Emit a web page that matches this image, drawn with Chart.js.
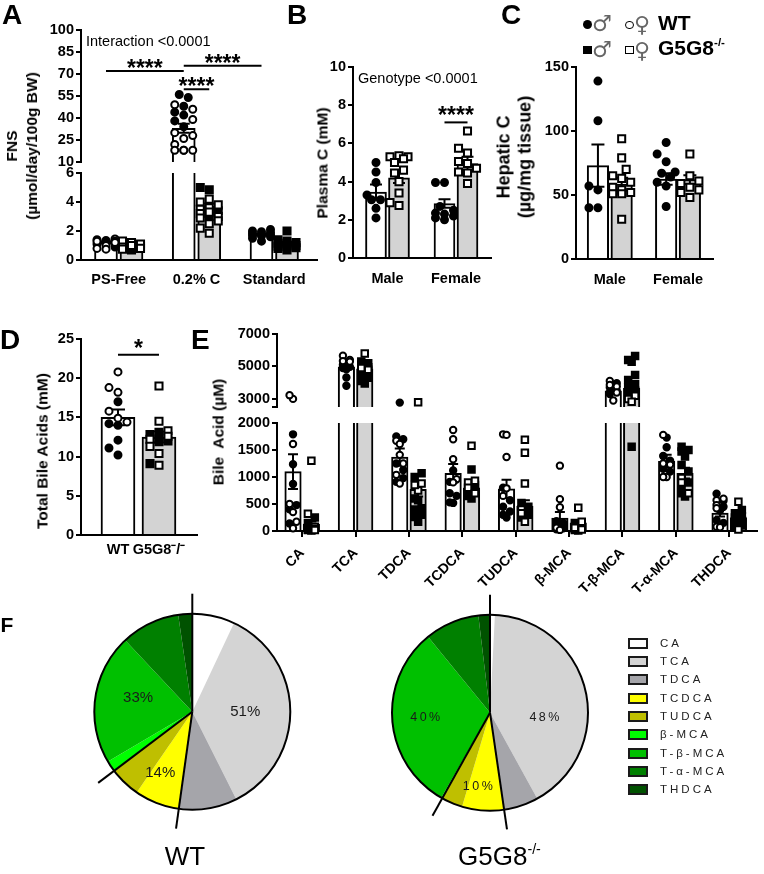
<!DOCTYPE html>
<html><head><meta charset="utf-8">
<script src="https://cdn.jsdelivr.net/npm/chart.js"></script>
<style>
html,body{margin:0;padding:0;background:#fff;}
#page{position:relative;width:764px;height:874px;overflow:hidden;font-family:'Liberation Sans',Arial,Helvetica,sans-serif;color:#000;}
#page canvas{position:absolute;left:0;top:0;}
.t{position:absolute;white-space:pre;line-height:1;}
.v{position:absolute;white-space:pre;text-align:center;font-weight:bold;transform:translate(-50%,-50%) rotate(-90deg);}
sup{font-size:55%;vertical-align:0;position:relative;top:-0.8em;}
</style></head><body><div id="page"></div>
<script>
// ================= DATA =================
// Panel A (FNS)
const aCats = ['PS-Free', '0.2% C', 'Standard'];
const aWtMean = [1.2, 33, 1.75];
const aWtSem  = [0.07, 3, 0.05];
const aKoMean = [1.0, 3.7, 1.15];
const aKoSem  = [0.06, 0.2, 0.1];
const aWtMale   = [[1.35,1.25,1.1,0.9],[56,54,48,44,42,38,34],[2.1,2.0,1.95,1.9,1.85,1.8,1.75,1.7,1.65,1.6,1.5,1.3]];
const aWtFemale = [[1.45,1.4,1.3,1.3,1.2,1.0,0.8,0.75],[49,46,39,30,28,26,22,18,18,18,18],[]];
const aKoMale   = [[1.05,0.95,0.85,0.7],[5.0,4.85,3.4,3.0],[2.0,1.4,1.3,1.2,1.15,1.1,1.0,0.95,0.9,0.85,0.8,0.7]];
const aKoFemale = [[1.3,1.2,1.1,0.9,0.8,0.75,1.0],[4.2,4.0,3.8,3.6,3.5,3.3,3.2,3.0,2.9,2.7,2.5,2.2,1.85],[]];
const aTopTicks = [10,25,40,55,70,85,100];
const aBotTicks = [0,2,4,6];

// Panel B (Plasma C)
const bCats = ['Male','Female'];
const bWtMean = [3.45, 2.85], bWtSem = [0.4, 0.22];
const bKoMean = [4.2, 4.95],  bKoSem = [0.27, 0.35];
const bWtPts = [[5.0,4.5,3.95,3.3,3.05,3.05,2.6,2.1],[3.95,3.95,2.7,2.5,2.35,2.3,2.2,2.1,2.0]];
const bKoPts = [[5.35,5.3,5.3,5.2,5.0,4.6,4.45,4.0,3.4,2.9,2.75],[6.65,5.75,5.5,5.05,4.95,4.7,4.5,4.45,3.9]];
const bTicks = [0,2,4,6,8,10];

// Panel C (Hepatic C)
const cCats = ['Male','Female'];
const cWtMean = [73, 62.5], cWtSem = [16.5, 4.5];
const cKoMean = [58.5, 62], cKoSem = [5, 3.5];
const cWtPts = [[139,108,57,54,40,40],[91,82,76,68,67,64,60,57,41]];
const cKoPts = [[94,79,70,65,63,60,56,54,52,51,51,31],[82,65,61,59,56,54,52,48]];
const cTicks = [0,50,100,150];

// Panel D (Total bile acids)
const dCats = ['WT','G5G8\u207B/\u207B'];
const dMean = [15.0, 12.5], dSem = [1.0, 0.7];
const dMale   = [[17.0,14.2,14.0,12.1,11.1,10.2],[13.1,12.8,12.4,11.9,12.0,9.1]];
const dFemale = [[20.8,18.8,18.2,15.8,14.9,14.4],[19.0,14.5,13.3,12.6,12.2,11.3,10.4,8.9]];
const dTicks = [0,5,10,15,20,25];

// Panel E (Bile acid species)
const eCats = ['CA','TCA','TDCA','TCDCA','TUDCA','β-MCA','T-β-MCA','T-α-MCA','THDCA'];
const eWtMean = [1100,4980,1370,1070,780,240,3500,1290,330];
const eWtSem  = [320,160,160,170,170,110,90,120,60];
const eKoMean = [125,4850,770,800,460,150,3650,1070,250];
const eKoSem  = [50,150,130,90,110,40,220,100,30];
const eWtFemale = [[3000,3230,1610,500,350,170,50],[5660,5400,5330,5300],[1670,1610,1410,1250,1040,880],[1870,1700,1330,960,900],[1790,1780,1370,790,650],[1210,590,440,60,20],[4110,3860,3760,3390,2900],[1780,1250,1230,1000,1000],[600,570,480,420,80,70]];
const eWtMale   = [[1790,1235,870,480,400,140],[5100,4980,4830,4320,3810,4900],[2770,1750,1700,1130,980,910,1250],[1120,910,700,650,520,530],[800,570,450,360,300,250],[180,150,100,80,50,30],[3970,3700,3500,3400,3300],[1730,1550,1390,1300,1150,1100],[690,560,450,380,200,150]];
const eKoFemale = [[1300,320,80,40,20],[5800,4900,4800],[2800,880,750,850],[1580,900,930,800,700],[1690,1450,880,400,330,170],[430,170,60,30],[3200,3000,2830],[980,900,700],[540,30]];
const eKoMale   = [[250,150,60,30,20,10],[5300,5200,5100,4950,4800,4700,4500,4300,4100,3950],[1070,1000,570,420,400,260,170,600,300],[1140,850,780,720,650,600],[520,450,380,300,250],[150,100,60,40,20,10],[5640,5400,5290,4480,4170,3900,3700,3500,3300,1560],[1560,1500,1470,1380,1220,1100,900,800,700,640],[390,330,280,250,200,150,100,80]];
const eTopTicks = [2500,3000,5000,7000];
const eBotTicks = [0,500,1000,1500,2000];

// Panel F (composition, % of total)
const fLabels = ['CA','TCA','TDCA','TCDCA','TUDCA','β-MCA','T-β-MCA','T-α-MCA','THDCA'];
const fWt = [7.0,35.6,9.6,7.4,5.1,1.8,21.5,9.7,2.3];
const fKo = [0.8,41.2,5.7,6.9,3.5,0.2,30.8,9.0,1.9];
const fGroups = [[0,1,2],[3,4],[5,6,7,8]];
const fWtGroupLabels = ['51%','14%','33%'];
const fKoGroupLabels = ['48%','10%','40%'];

// ================= STYLE =================
const FONT = "'Liberation Sans', Arial, Helvetica, sans-serif";
const fColors = ['#ffffff','#d4d4d4','#a5a5aa','#ffff00','#bfbf00','#00ff00','#00c000','#008000','#005200'];
const WT_FILL = '#ffffff', KO_FILL = '#d3d3d3';
Chart.defaults.font.family = FONT;
Chart.defaults.color = '#000';

const page = document.getElementById('page');
function mkCanvas(){const c=document.createElement('canvas');c.width=764;c.height=874;c.style.width='764px';c.style.height='874px';page.appendChild(c);return c;}
function txt(html,x,base,size,weight,align,extra){
  const d=document.createElement('div');d.className='t';d.innerHTML=html;
  d.style.fontSize=size+'px';d.style.fontWeight=weight||'bold';
  d.style.top=(base-0.8465*size)+'px';d.style.left=x+'px';
  if(align==='center')d.style.transform='translateX(-50%)';
  if(extra)Object.assign(d.style,extra);
  page.appendChild(d);return d;
}
function vtxt(html,cx,cy,size,lh){
  const d=document.createElement('div');d.className='v';d.innerHTML=html;
  d.style.fontSize=size+'px';d.style.lineHeight=(lh||Math.round(size*1.2))+'px';
  d.style.left=cx+'px';d.style.top=cy+'px';page.appendChild(d);return d;
}
function box(x,y,w,h,st){const d=document.createElement('div');Object.assign(d.style,{position:'absolute',left:x+'px',top:y+'px',width:w+'px',height:h+'px',boxSizing:'border-box'},st);page.appendChild(d);return d;}

// deterministic beeswarm layout (pixel offsets)
function swarm(ys,maxOff,step,size){
  const order=ys.map((_,i)=>i).sort((a,b)=>ys[a]-ys[b]);
  const placed=[],offs=new Array(ys.length).fill(0);
  const cands=[0];for(let k=1;k*step<=maxOff+0.01;k++)cands.push(-k*step,k*step);
  for(const i of order){
    let best=0,bs=Infinity;
    for(const c of cands){
      let s=0;for(const p of placed){const d=Math.hypot(p.x-c,p.y-ys[i]);if(d<size)s+=size-d;}
      if(s<bs-1e-9){bs=s;best=c;} if(s===0)break;
    }
    placed.push({x:best,y:ys[i]});offs[i]=best;
  }
  return offs;
}
function groupPts(male,female,xc,L,F,O){
  const all=male.map(v=>({v,f:true})).concat(female.map(v=>({v,f:false})));
  const offs=swarm(all.map(a=>L.yPix(a.v)),L.maxOff,L.step,L.size);
  all.forEach((a,k)=>(a.f?F:O).push({x:xc+offs[k]/L.pxX,y:a.v}));
}
function catPts(maleArr,femaleArr,off,L){
  const F=[],O=[];
  const n=Math.max(maleArr.length,femaleArr.length);
  for(let i=0;i<n;i++)groupPts(maleArr[i]||[],femaleArr[i]||[],i+off,L,F,O);
  return {filled:F,open:O};
}

const panelPlugin={
  id:'panelExtras',
  afterDatasetDraw(chart,args){
    const ds=chart.data.datasets[args.index];
    if(!ds.errs)return;
    const ctx=chart.ctx,a=chart.chartArea,xs=chart.scales.x,ys=chart.scales.y;
    ctx.save();ctx.beginPath();ctx.rect(a.left,a.top,a.right-a.left,a.bottom-a.top);ctx.clip();
    ctx.strokeStyle='#000';ctx.lineWidth=2;
    ds.data.forEach((d,i)=>{
      const e=ds.errs[i];if(e==null||d.y==null)return;
      const x=xs.getPixelForValue(d.x),y1=ys.getPixelForValue(d.y-e),y2=ys.getPixelForValue(d.y+e),w=ds.capW;
      ctx.beginPath();ctx.moveTo(x,y1);ctx.lineTo(x,y2);
      ctx.moveTo(x-w,y1);ctx.lineTo(x+w,y1);ctx.moveTo(x-w,y2);ctx.lineTo(x+w,y2);ctx.stroke();
    });
    ctx.restore();
  },
  afterDraw(chart,args,opts){
    const sig=opts.sig||[];if(!sig.length)return;
    const ctx=chart.ctx,xs=chart.scales.x,ys=chart.scales.y;
    ctx.save();ctx.strokeStyle='#000';ctx.fillStyle='#000';ctx.lineWidth=2;
    ctx.font='bold '+opts.starSize+'px '+FONT;ctx.textAlign='center';ctx.textBaseline='alphabetic';
    sig.forEach(s=>{
      const x1=xs.getPixelForValue(s.x1),x2=xs.getPixelForValue(s.x2),y=ys.getPixelForValue(s.y);
      ctx.beginPath();ctx.moveTo(x1,y);ctx.lineTo(x2,y);ctx.stroke();
      ctx.fillText(s.text,(x1+x2)/2,y+opts.starDy);
    });
    ctx.restore();
  }
};

function barChart(o){
  const yW=50,xH=o.cats?70:0;
  const datasets=[];
  o.points.forEach(p=>datasets.push({type:'scatter',data:p.data,pointStyle:p.style,pointRadius:p.r,
    backgroundColor:p.fill,borderColor:'#000',borderWidth:2,pointBorderWidth:2,order:1,clip:o.clip}));
  o.bars.forEach(b=>datasets.push({type:'bar',data:b.vals.map((v,i)=>({x:i+b.off,y:v})),backgroundColor:b.fill,
    borderColor:'#000',borderWidth:2,borderSkipped:'start',barThickness:o.barW,maxBarThickness:o.barW,grouped:false,
    errs:b.errs,capW:o.capW,order:2,clip:0}));
  return new Chart(mkCanvas(),{
    type:'bar',data:{datasets},
    options:{responsive:false,maintainAspectRatio:false,devicePixelRatio:1,animation:false,events:[],
      layout:{padding:{left:o.area.l-yW,top:o.area.t,right:764-o.area.r,bottom:874-o.area.b-xH}},
      plugins:{legend:{display:false},tooltip:{enabled:false},
        panelExtras:{sig:o.sig||[],starDy:o.starDy||0,starSize:o.starSize||23}},
      scales:{
        x:{type:'linear',offset:false,display:!!o.cats,min:o.xMin,max:o.xMax,
          afterBuildTicks:s=>{s.ticks=(o.cats||[]).map((c,i)=>({value:i}));},
          afterFit:s=>{s.height=xH;},
          ticks:{callback:v=>o.cats?o.cats[v]:'',font:{family:FONT,size:o.xSize||14.5,weight:'bold'},padding:o.xPad||0,
            autoSkip:false,minRotation:o.rot||0,maxRotation:o.rot||0,color:'#000'},
          grid:{display:!!o.xTicks,offset:false,drawOnChartArea:false,drawTicks:!!o.xTicks,tickLength:6,lineWidth:2,color:'#000'},
          border:{display:true,color:'#000',width:2}},
        y:{type:'linear',min:o.yMin,max:o.yMax,
          afterBuildTicks:s=>{s.ticks=o.yTicks.map(v=>({value:v}));},
          afterFit:s=>{s.width=yW;},
          ticks:{callback:v=>(o.hideTick&&o.hideTick.includes(v))?'':String(v),font:{family:FONT,size:14.5,weight:'bold'},padding:2,color:'#000'},
          grid:{drawOnChartArea:false,drawTicks:true,tickLength:5,lineWidth:2,color:'#000'},
          border:{display:true,color:'#000',width:2}}
      }},
    plugins:[panelPlugin]
  });
}
function markerSets(wt,ko,rc,rs){
  return [
    {data:wt.open,style:'circle',r:rc,fill:'#fff'},
    {data:wt.filled,style:'circle',r:rc,fill:'#000'},
    {data:ko.open,style:'rect',r:rs,fill:'#fff'},
    {data:ko.filled,style:'rect',r:rs,fill:'#000'}];
}

// ---------- Panel A ----------
{
  const off=0.164;
  const L={yPix:v=>v<=8?v*14.5:1000+v*1.467,pxX:77.75,maxOff:9,step:4.5,size:9};
  const wt=catPts(aWtMale,aWtFemale,-off,L), ko=catPts(aKoMale,aKoFemale,off,L);
  const pts=markerSets(wt,ko,3.5,5);
  const bars=[{vals:aWtMean,errs:aWtSem,off:-off,fill:WT_FILL},{vals:aKoMean,errs:aKoSem,off:off,fill:KO_FILL}];
  const xr={xMin:-0.4855,xMax:2.5498};
  barChart(Object.assign({area:{l:81,t:30,r:317,b:162},yMin:10,yMax:100,yTicks:aTopTicks,bars,points:pts,barW:23,capW:6,
    clip:{left:10,right:10,top:10,bottom:0},starDy:5,
    sig:[{x1:-off,x2:1-off,y:72,text:'****'},{x1:1-off,x2:2-off,y:75.6,text:'****'},{x1:1-off,x2:1+off,y:59.6,text:'****'}]},xr));
  barChart(Object.assign({area:{l:81,t:173,r:317,b:260},cats:aCats,xPad:11,yMin:0,yMax:6,yTicks:aBotTicks,bars,points:pts,barW:23,capW:6,
    clip:{left:10,right:10,top:0,bottom:10}},xr));
}
// ---------- Panel B ----------
{
  const off=0.168;
  const L={yPix:v=>v*19.1,pxX:68.5,maxOff:9,step:4.5,size:9};
  const wt=catPts(bWtPts,[],-off,L), ko=catPts([],bKoPts,off,L);
  barChart({area:{l:353,t:67,r:491,b:258},cats:bCats,xPad:12,xMin:-0.5036,xMax:1.511,yMin:0,yMax:10,yTicks:bTicks,
    bars:[{vals:bWtMean,errs:bWtSem,off:-off,fill:WT_FILL},{vals:bKoMean,errs:bKoSem,off:off,fill:KO_FILL}],
    points:markerSets(wt,ko,3.5,5),barW:21,capW:6,clip:10,starDy:1,
    sig:[{x1:1-off,x2:1+off,y:7.1,text:'****'}]});
}
// ---------- Panel C ----------
{
  const off=0.174;
  const L={yPix:v=>v*1.28,pxX:68.2,maxOff:9,step:4.5,size:9};
  const wt=catPts(cWtPts,[],-off,L), ko=catPts([],cKoPts,off,L);
  barChart({area:{l:576,t:67,r:713,b:259},cats:cCats,xPad:12,xMin:-0.4956,xMax:1.513,yMin:0,yMax:150,yTicks:cTicks,
    bars:[{vals:cWtMean,errs:cWtSem,off:-off,fill:WT_FILL},{vals:cKoMean,errs:cKoSem,off:off,fill:KO_FILL}],
    points:markerSets(wt,ko,3.5,5),barW:21.5,capW:6.5,clip:10});
}
// ---------- Panel D ----------
{
  const L={yPix:v=>v*7.83,pxX:41,maxOff:12,step:4.5,size:9};
  const F1=[],O1=[],F2=[],O2=[];
  groupPts(dMale[0],dFemale[0],0,L,F1,O1);
  groupPts(dMale[1],dFemale[1],1,L,F2,O2);
  barChart({area:{l:81,t:339,r:197,b:535},cats:dCats,xPad:6,xMin:-0.902,xMax:1.927,yMin:0,yMax:25,yTicks:dTicks,
    bars:[{vals:[dMean[0]],errs:[dSem[0]],off:0,fill:WT_FILL},{vals:[null,dMean[1]],errs:[null,dSem[1]],off:0,fill:KO_FILL}],
    points:markerSets({filled:F1,open:O1},{filled:F2,open:O2},3.5,5),barW:34,capW:7,clip:10,starDy:1,
    sig:[{x1:0,x2:1,y:23,text:'*'}]});
}
// ---------- Panel E ----------
{
  const off=0.172;
  const L={yPix:v=>v<=2200?v*0.054:1000+v*0.01626,pxX:54,maxOff:6.5,step:3.5,size:8};
  const wt=catPts(eWtMale,eWtFemale,-off,L), ko=catPts(eKoMale,eKoFemale,off,L);
  const pts=markerSets(wt,ko,3.2,4.6);
  const bars=[{vals:eWtMean,errs:eWtSem,off:-off,fill:WT_FILL},{vals:eKoMean,errs:eKoSem,off:off,fill:KO_FILL}];
  const xr={xMin:-0.472,xMax:8.528};
  barChart(Object.assign({area:{l:277,t:334,r:763,b:407},yMin:2500,yMax:7000,yTicks:eTopTicks,hideTick:[2500],bars,points:pts,
    barW:16.5,capW:5,clip:{left:10,right:10,top:10,bottom:0}},xr));
  barChart(Object.assign({area:{l:277,t:423,r:763,b:531},cats:eCats,xTicks:true,rot:45,xSize:14,xPad:8,yMin:0,yMax:2000,yTicks:eBotTicks,
    bars,points:pts,barW:16.5,capW:5,clip:{left:10,right:10,top:0,bottom:10}},xr));
}
// ---------- Panel F ----------
const piePlugin={
  id:'pieExtras',
  afterDatasetsDraw(chart,args,o){
    const ctx=chart.ctx,arcs=chart.getDatasetMeta(0).data;
    const p=arcs[0].getProps(['x','y','outerRadius'],true);
    const cx=p.x,cy=p.y,r=p.outerRadius;
    ctx.save();ctx.strokeStyle='#000';ctx.lineWidth=2;
    ctx.beginPath();ctx.arc(cx,cy,r,0,Math.PI*2);ctx.stroke();
    o.groups.forEach(g=>{
      const a=arcs[g[0]].startAngle;
      ctx.beginPath();ctx.moveTo(cx,cy);ctx.lineTo(cx+(r+o.ext)*Math.cos(a),cy+(r+o.ext)*Math.sin(a));ctx.stroke();
    });
    ctx.fillStyle='#1a1a1a';ctx.font=o.font;ctx.textAlign='center';ctx.textBaseline='middle';
    if(o.spacing)ctx.letterSpacing=o.spacing;
    o.groups.forEach((g,gi)=>{
      const s=arcs[g[0]].startAngle,e=arcs[g[g.length-1]].endAngle,ps=o.pos[gi];
      const m=(s+e)/2+ps.da*Math.PI/180,d=r*ps.rf;
      ctx.fillText(o.labels[gi],cx+d*Math.cos(m),cy+d*Math.sin(m));
    });
    ctx.restore();
  }
};
function pieChart(vals,cx,cy,r,labels,font,spacing,pos){
  return new Chart(mkCanvas(),{type:'pie',
    data:{labels:fLabels,datasets:[{data:vals,backgroundColor:fColors,borderWidth:0}]},
    options:{responsive:false,maintainAspectRatio:false,devicePixelRatio:1,animation:false,events:[],
      layout:{padding:{left:cx-r,top:cy-r,right:764-cx-r,bottom:874-cy-r}},
      plugins:{legend:{display:false},tooltip:{enabled:false},
        pieExtras:{groups:fGroups,labels,font,spacing,pos,ext:20}}},
    plugins:[piePlugin]});
}
pieChart(fWt,192.3,711.7,98,fWtGroupLabels,'15px '+FONT,null,[{rf:0.54,da:-4},{rf:0.70,da:-2.6},{rf:0.57,da:-12.5}]);
pieChart(fKo,490,712.7,98,fKoGroupLabels,'12.5px '+FONT,'2.5px',[{rf:0.57,da:9},{rf:0.76,da:-2},{rf:0.65,da:-18.6}]);

// legend F
fLabels.forEach((lab,i)=>{
  const y=643.3+18.33*i;
  box(628,y-5.5,20,11,{border:'2px solid #1a1a1a',background:fColors[i]});
  txt(lab,660,y+4,11.5,'normal',null,{letterSpacing:'3px',color:'#222'});
});
txt('WT',185,865,26,'normal','center');
txt('G5G8<sup>-/-</sup>',458,865,26,'normal');

// ================= TEXT =================
txt('A',2,25,28);txt('B',287,25,28);txt('C',501,25,28);
txt('D',0,350,28);txt('E',191,350,28);txt('F',0.5,632,21);
txt('Interaction &lt;0.0001',86,46,14.5,'normal');
txt('Genotype &lt;0.0001',358,83,14.5,'normal');
vtxt('FNS<br>(µmol/day/100g BW)',22,146,15.5,20);
vtxt('Plasma C (mM)',322,162.5,15.5);
vtxt('Hepatic C<br>(µg/mg tissue)',514,156.5,18,20.5);
vtxt('Total Bile Acids (mM)',42,451,15.5);
vtxt('Bile  Acid (µM)',218,432,15.5);

// legend C (WT / G5G8)
box(583,20,9,9,{background:'#000',borderRadius:'50%'});
txt('♂',592,32,22,'normal',null,{color:'#666',fontFamily:'DejaVu Sans'});
box(625,20.5,8.5,8.5,{border:'1.5px solid #000',borderRadius:'50%'});
txt('♀',634,33,22,'normal',null,{color:'#666',fontFamily:'DejaVu Sans'});
txt('WT',658,29.5,21);
box(583,45.5,9,8.5,{background:'#000'});
txt('♂',592,58,22,'normal',null,{color:'#666',fontFamily:'DejaVu Sans'});
box(625,45.5,8.5,8.5,{border:'1.5px solid #000'});
txt('♀',634,59,22,'normal',null,{color:'#666',fontFamily:'DejaVu Sans'});
txt('G5G8<sup>-/-</sup>',658,55,21);
</script></body></html>
